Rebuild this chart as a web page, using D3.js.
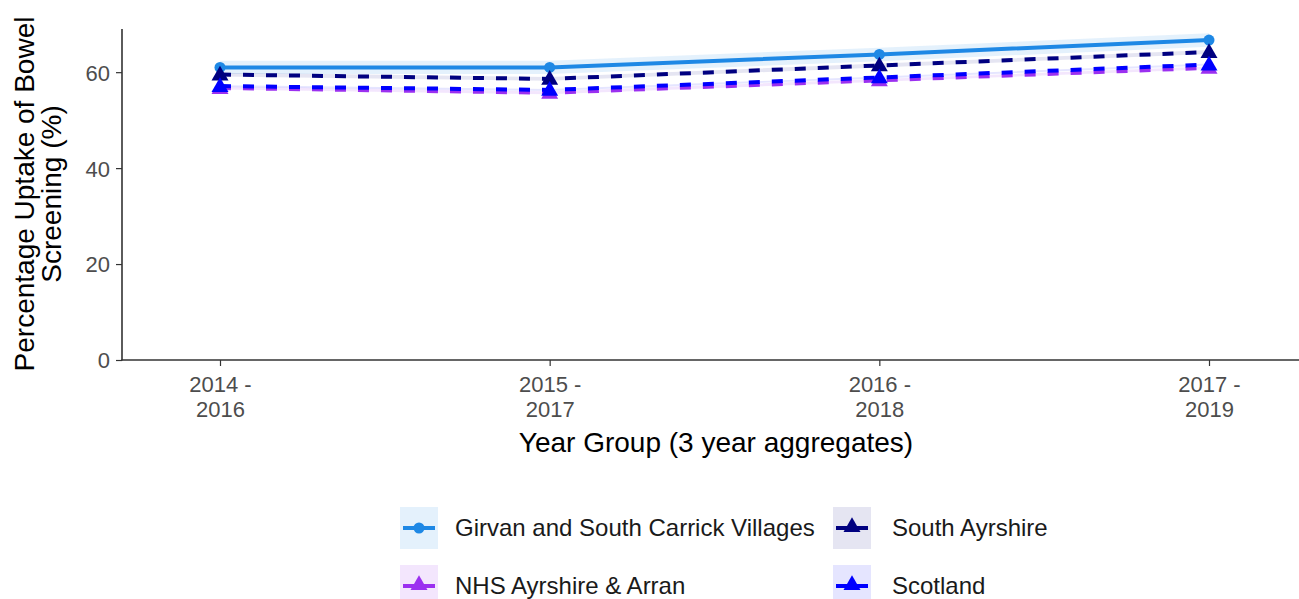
<!DOCTYPE html>
<html><head><meta charset="utf-8">
<script src="https://cdn.jsdelivr.net/npm/d3@7"></script>
<style>body{margin:0;background:#fff;} svg{display:block;font-family:"Liberation Sans",Arial,sans-serif;}</style>
</head><body>
<svg id="c" width="1299" height="599"></svg>
<script>
const categories = ["2014 - 2016","2015 - 2017","2016 - 2018","2017 - 2019"];
const seriesNames = ["Girvan and South Carrick Villages","NHS Ayrshire & Arran","South Ayrshire","Scotland"];
const girvan = [61.0, 61.0, 63.7, 66.7];
const girvanLow = [59.6, 59.6, 62.3, 65.3];
const girvanHigh = [62.4, 62.4, 65.1, 68.1];
const nhs = [56.7, 55.7, 58.3, 60.9];
const southAyrshire = [59.5, 58.6, 61.4, 64.2];
const scotland = [57.1, 56.3, 58.9, 61.6];
const yTicks = [0, 20, 40, 60];

const svg = d3.select("#c");
const x = d3.scalePoint().domain(categories).range([220, 1209]);
const y = d3.scaleLinear().domain([0, 69]).range([360, 29]);

const styles = {
  "Girvan and South Carrick Villages": {color:"#1e88e5", fill:"rgba(30,136,229,0.12)", dash:null, shape:"circle"},
  "NHS Ayrshire & Arran": {color:"#9b30f0", fill:"rgba(155,48,240,0.12)", dash:"11,12", shape:"tri"},
  "South Ayrshire": {color:"#000080", fill:"rgba(0,0,128,0.1)", dash:"11,12", shape:"tri"},
  "Scotland": {color:"#0000ff", fill:"rgba(0,0,255,0.1)", dash:"11,12", shape:"tri"}
};
const data = {
  "Girvan and South Carrick Villages": girvan,
  "NHS Ayrshire & Arran": nhs,
  "South Ayrshire": southAyrshire,
  "Scotland": scotland
};
const ribbons = {
  "Girvan and South Carrick Villages": [girvanLow, girvanHigh],
  "NHS Ayrshire & Arran": [nhs.map(v=>v-0.3), nhs.map(v=>v+0.3)],
  "South Ayrshire": [southAyrshire.map(v=>v-0.4), southAyrshire.map(v=>v+0.4)],
  "Scotland": [scotland.map(v=>v-0.2), scotland.map(v=>v+0.2)]
};

// ribbons
const area = d3.area().x((d,i)=>x(categories[i])).y0(d=>y(d[0])).y1(d=>y(d[1]));
seriesNames.forEach(s=>{
  const [lo,hi] = ribbons[s];
  svg.append("path").datum(lo.map((v,i)=>[v,hi[i]])).attr("d",area)
    .attr("fill",styles[s].fill).attr("stroke","none");
});

// lines
const line = d3.line().x((d,i)=>x(categories[i])).y(d=>y(d));
const tri = d3.symbol().type(d3.symbolTriangle).size(125);
seriesNames.forEach(s=>{
  const st = styles[s];
  svg.append("path").datum(data[s]).attr("d",line).attr("fill","none")
    .attr("stroke",st.color).attr("stroke-width",4)
    .attr("stroke-dasharray",st.dash);
  data[s].forEach((v,i)=>{
    if(st.shape==="circle"){
      svg.append("circle").attr("cx",x(categories[i])).attr("cy",y(v)).attr("r",5.5).attr("fill",st.color);
    } else {
      svg.append("path").attr("d",tri).attr("transform",`translate(${x(categories[i])},${y(v)+1})`).attr("fill",st.color);
    }
  });
});

// axes
const gy = svg.append("g").attr("transform","translate(122,0)")
  .call(d3.axisLeft(y).tickValues(yTicks).tickSize(6).tickPadding(6));
gy.select(".domain").remove();
gy.selectAll("line").attr("stroke","#333").attr("stroke-width",1.2);
gy.selectAll("text").attr("fill","#4d4d4d").style("font-size","22px").attr("dy","0.36em");
svg.append("line").attr("x1",122).attr("x2",122).attr("y1",29).attr("y2",360.5).attr("stroke","#333").attr("stroke-width",1.6);
svg.append("line").attr("x1",121.2).attr("x2",1299).attr("y1",360).attr("y2",360).attr("stroke","#333").attr("stroke-width",1.6);

const gx = svg.append("g").attr("transform","translate(0,360)")
  .call(d3.axisBottom(x).tickSize(6).tickPadding(4));
gx.select(".domain").remove();
gx.selectAll("line").attr("stroke","#333").attr("stroke-width",1.2);
gx.selectAll("text").each(function(d){
  const t = d3.select(this); t.text(null);
  const parts = d.split(" - ");
  t.attr("fill","#4d4d4d").style("font-size","22px").attr("y",0).attr("dy",null);
  t.append("tspan").attr("x",0).attr("y",32).text(parts[0]+" -");
  t.append("tspan").attr("x",0).attr("y",57).text(parts[1]);
});

// titles
svg.append("text").attr("x",716).attr("y",452).attr("text-anchor","middle")
  .style("font-size","28px").attr("fill","#000").text("Year Group (3 year aggregates)");
const yt = svg.append("text").attr("transform","translate(0,194) rotate(-90)").attr("text-anchor","middle")
  .style("font-size","28px").attr("fill","#000");
yt.append("tspan").attr("x",0).attr("y",34).text("Percentage Uptake of Bowel");
yt.append("tspan").attr("x",0).attr("y",61).text("Screening (%)");

// legend
const legendItems = [
  {name:"Girvan and South Carrick Villages", bx:400, tx:455, cy:528},
  {name:"South Ayrshire", bx:833, tx:892, cy:528},
  {name:"NHS Ayrshire & Arran", bx:400, tx:455, cy:586},
  {name:"Scotland", bx:833, tx:892, cy:586}
];
legendItems.forEach(it=>{
  const st = styles[it.name];
  svg.append("rect").attr("x",it.bx).attr("y",it.cy-21).attr("width",38).attr("height",42).attr("fill",st.fill);
  svg.append("line").attr("x1",it.bx+3).attr("x2",it.bx+35).attr("y1",it.cy).attr("y2",it.cy)
    .attr("stroke",st.color).attr("stroke-width",4);
  if(st.shape==="circle"){
    svg.append("circle").attr("cx",it.bx+19).attr("cy",it.cy).attr("r",5.5).attr("fill",st.color);
  } else {
    svg.append("path").attr("d",tri).attr("transform",`translate(${it.bx+19},${it.cy-1})`).attr("fill",st.color);
  }
  svg.append("text").attr("x",it.tx).attr("y",it.cy+8)
    .style("font-size","24px").attr("fill","#1a1a1a").text(it.name);
});
</script>
</body></html>
